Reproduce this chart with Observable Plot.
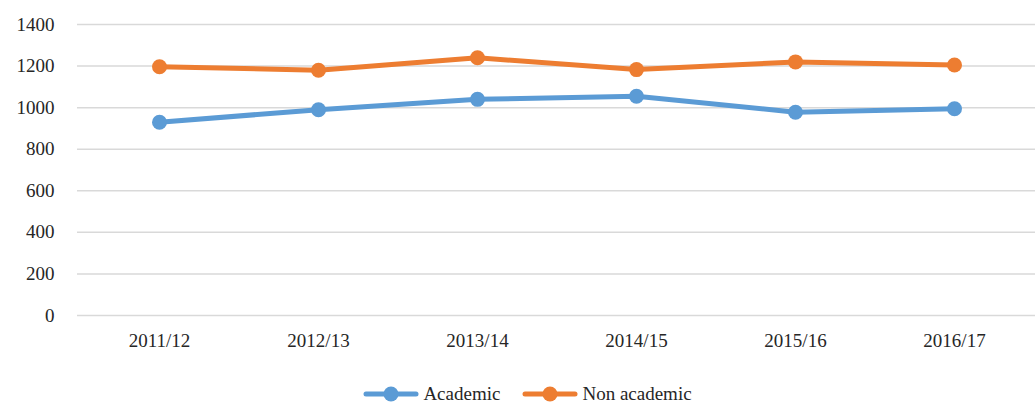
<!DOCTYPE html>
<html><head><meta charset="utf-8">
<script src="https://cdn.jsdelivr.net/npm/d3@7"></script>
<script src="https://cdn.jsdelivr.net/npm/@observablehq/plot@0.6"></script>
<style>
body{margin:0;background:#fff;font-family:"Liberation Serif","Times New Roman",Tinos,"DejaVu Serif","Noto Serif",FreeSerif,serif;}
#legend{display:flex;justify-content:center;align-items:center;gap:22px;font-size:19px;color:#262626;margin-top:27px;margin-left:20px;}
.item{display:flex;align-items:center;gap:4px;}
svg text{font-family:"Liberation Serif","Times New Roman",Tinos,"DejaVu Serif","Noto Serif",FreeSerif,serif !important;}
</style></head>
<body>
<div id="chart"></div>
<div id="legend"></div>
<script>
const categories = ["2011/12","2012/13","2013/14","2014/15","2015/16","2016/17"];
const academic = [930, 990, 1040, 1055, 978, 995];
const nonAcademic = [1197, 1180, 1240, 1183, 1220, 1205];
const yTicks = [0,200,400,600,800,1000,1200,1400];
const seriesNames = ["Academic","Non academic"];
const colors = ["#5B9BD5","#ED7D31"];

const data = [];
categories.forEach((c,i)=>{
  data.push({cat:c, v:academic[i], s:seriesNames[0]});
  data.push({cat:c, v:nonAcademic[i], s:seriesNames[1]});
});

const FONT = '"Liberation Serif", "Times New Roman", Tinos, "DejaVu Serif", serif';
const plot = Plot.plot({
  width: 1035, height: 356,
  marginLeft: 77, marginRight: 0, marginTop: 24, marginBottom: 41,
  style: {fontFamily: FONT, fontSize: "19px", color: "#262626", background: "#fff"},
  x: {type: "point", domain: categories, padding: 0.5, label: null},
  y: {domain: [0,1400], ticks: yTicks, label: null},
  color: {domain: seriesNames, range: colors},
  marks: [
    Plot.ruleY(yTicks, {stroke: "#d9d9d9", strokeWidth: 1.5}),
    Plot.axisY({ticks: yTicks, tickFormat: d => String(d), tickSize: 0, tickPadding: 23, label: null, fontSize: 19, fontFamily: FONT}),
    Plot.axisX({tickSize: 0, tickPadding: 18, label: null, fontSize: 19, fontFamily: FONT}),
    Plot.line(data, {x: "cat", y: "v", z: "s", stroke: "s", strokeWidth: 5, strokeLinejoin: "round", strokeLinecap: "round"}),
    Plot.dot(data, {x: "cat", y: "v", fill: "s", r: 7.5, stroke: null})
  ]
});
document.getElementById("chart").appendChild(plot);

const legend = document.getElementById("legend");
seriesNames.forEach((n,i)=>{
  const d = document.createElement("div");
  d.className = "item";
  d.innerHTML = `<svg width="56" height="16"><line x1="3" y1="8" x2="53" y2="8" stroke="${colors[i]}" stroke-width="5" stroke-linecap="round"/><circle cx="28" cy="8" r="7.5" fill="${colors[i]}"/></svg><span>${n}</span>`;
  legend.appendChild(d);
});
</script>
</body></html>
